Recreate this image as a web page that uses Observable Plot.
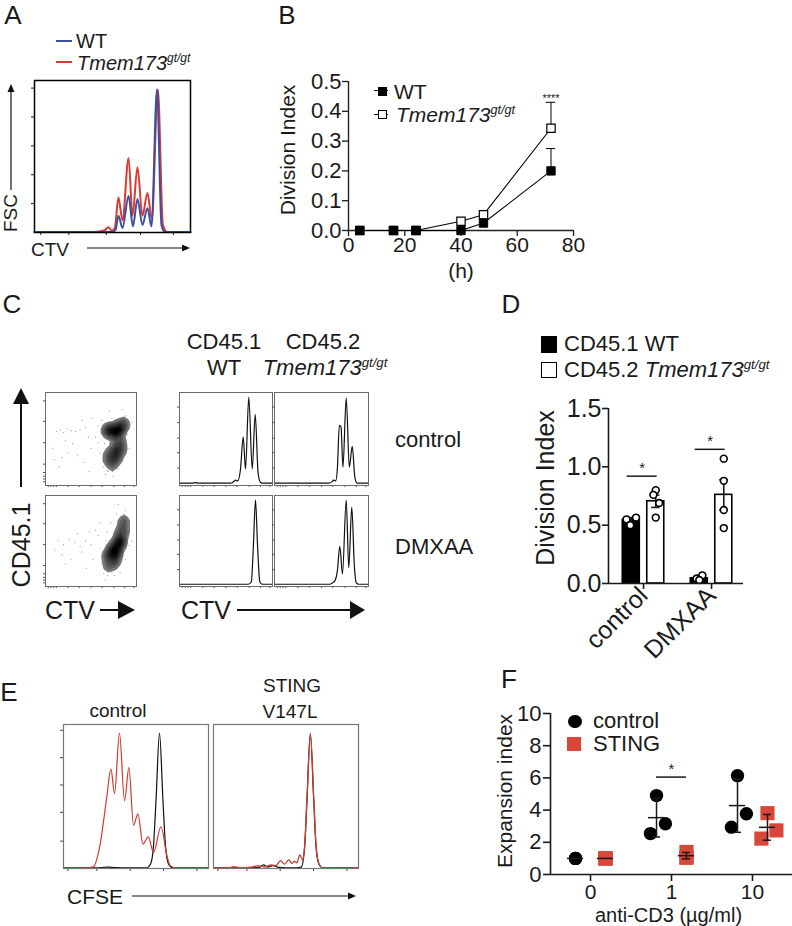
<!DOCTYPE html>
<html>
<head>
<meta charset="utf-8">
<script src="https://cdn.jsdelivr.net/npm/d3@7"></script>
<script src="https://cdn.jsdelivr.net/npm/@observablehq/plot@0.6"></script>
<style>
  html, body { margin: 0; padding: 0; background: #fff; }
  #fig { position: relative; width: 792px; height: 926px; overflow: hidden; background: #fff;
         font-family: "Liberation Sans", Arial, Helvetica, sans-serif; color: #1a1a1a; }
  .t { position: absolute; white-space: nowrap; line-height: 1; }
  .it { font-style: italic; }
  .sup { font-size: 0.6em; position: relative; top: -0.62em; }
  .sw { position: absolute; box-sizing: border-box; }
</style>
</head>
<body>
<div id="fig"></div>
<script>
// ================= DATA =================
// Panel A: CTV histograms (x = % of CTV axis, y = fraction of max count)
const aWT = [[0,0.004],[50,0.004],[52,0.02],[53.8,0.11],[56.4,0.03],[60.3,0.24],[63.1,0.04],[66,0.22],[69.2,0.05],[72.4,0.16],[75,0.04],[78.5,0.94],[81.4,0.05],[83.5,0.004],[100,0.004]];
const aKO = [[0,0.004],[38,0.004],[44.9,0.015],[47.4,0.035],[49.5,0.012],[51.5,0.03],[53.8,0.23],[56.4,0.08],[60.3,0.49],[62.8,0.11],[66,0.43],[69.2,0.11],[72.4,0.26],[75.2,0.09],[79.1,0.94],[82.3,0.05],[85,0.004],[100,0.004]];
const aTickY = [0.19,0.38,0.57,0.76,0.95];
const aTickX = [4,22,46,68,89];

// Panel B: division index over time
const bHours = [4,16,24,40,48,72];
const bWT    = [0,0,0,0,0.025,0.2];
const bKO    = [0,0,0,0.031,0.053,0.343];
const bWTerr = [0,0,0,0,0,0.075];
const bKOerr = [0,0,0,0,0,0.087];
const bSig   = ["","","","","","****"];
const bTickY = [0,0.1,0.2,0.3,0.4,0.5];
const bTickX = [0,20,40,60,80];

// Panel C: flow dot plots (seed clusters: x, y, weight) and sparse events
const cDotCtrlSeeds = [[69,60,3],[70,57,2],[75.5,60,3],[76,57,2],[82.5,62,3],[84,65,2],[80,57,1],[86,69,1],
  [70.5,34,2],[71,27,2],[71.5,20,1],[76.5,38,2.5],[77,31,2],[77,24,1],[82,47,2],[82.5,40,2],[83,33,1],[79,50,1]];
const cDotCtrlSparse = [[12,58],[16,60],[20,57],[24,61],[28,59],[33,58],[38,60],[44,62],[18,30],[10,28],[25,35],[35,32],[42,25],[50,40],
  [55,52],[58,64],[62,70],[60,35],[64,20],[66,12],[88,75],[90,55],[92,40],[86,30],[80,18],[74,10],[58,46],[47,52],[30,45],[22,48],
  [40,70],[52,72],[95,68],[62,58],[65,45],[85,82],[70,80],[8,40],[15,20],[48,15],[64,62],[66,52],[88,50],[87,44],[73,72],[79,70],[68,16],[74,15],
  [66,64],[67,55],[73,65],[79,66],[88,60],[89,66],[68,40],[67,30],[69,15],[74,43],[80,30],[85,40],[86,52],[75,20],[72,48],[64,26]];
const cDotDmxSeeds = [[70,34,2],[70,27,1.5],[69.5,20,1],[72.5,38,1.5],[76,40,2.5],[76.5,33,2],[76,26,1],[80,46,2],[82,53,2.5],
  [82.5,46,2],[84,60,2],[85.5,67,1.5],[86,74,1],[79,38,1],[73,44,1]];
const cDotDmxSparse = [[14,50],[20,46],[26,52],[32,48],[38,44],[44,50],[50,46],[18,35],[28,30],[40,38],[52,30],[58,56],[60,42],[62,25],
  [64,14],[66,8],[72,70],[78,80],[86,78],[90,60],[92,45],[88,30],[82,15],[76,12],[55,62],[48,60],[35,58],[10,40],[22,25],[45,20],
  [68,60],[95,50],[70,45],[60,70],[80,90],[66,50],[88,84],[90,70],[74,18],[64,32],
  [66,22],[67,38],[70,50],[74,55],[78,58],[88,66],[89,56],[87,48],[84,35],[80,28],[73,15],[68,12],[86,80],[78,65],[65,30]];
// Panel C: CTV histograms (x = % of axis, y = fraction of frame height)
const cHistCtrlWT = [[0,0.005],[14,0.005],[17,0.012],[20,0.005],[55,0.005],[58,0.02],[60.2,0.04],[62.5,0.03],[65.5,0.15],[68.5,0.51],[71,0.16],[74.5,0.95],[78.2,0.16],[81.4,0.76],[84.5,0.12],[86.8,0.02],[89,0.005],[100,0.005]];
const cHistCtrlKO = [[0,0.005],[58,0.005],[61,0.02],[63,0.04],[65,0.03],[66.8,0.15],[69,0.64],[70.8,0.62],[72.8,0.18],[76.3,0.94],[79.6,0.18],[82.7,0.41],[85.5,0.07],[88,0.005],[100,0.005]];
const cHistDmxWT  = [[0,0.005],[74,0.005],[77.2,0.03],[79.4,0.42],[81.7,0.95],[84,0.42],[86.4,0.03],[89,0.005],[100,0.005]];
const cHistDmxKO  = [[0,0.005],[59,0.005],[61.5,0.02],[64,0.04],[66.8,0.15],[69.5,0.43],[72.3,0.12],[76.3,0.95],[79,0.19],[82.2,0.87],[85,0.2],[87,0.02],[89.5,0.005],[100,0.005]];
const cTickY = [0.17,0.34,0.5,0.67,0.84];
const cTickX = [3,6,9,12,25,37,50,62,75,87,97];
const cDotTickY = [4,7,10,14,23,46,69,91];
const cDotTickX = [3,6,9,12,25,37,50,62,75,87,97];

// Panel D: division index bars
const dGroups = ["control","DMXAA"];
const dMeanWT = [0.545,0.045];
const dMeanKO = [0.705,0.76];
const dSemWT  = [0.02,0.012];
const dSemKO  = [0.053,0.13];
const dPtsWT  = [[0.55,0.50,0.565],[0.043,0.07,0.03]];
const dPtsKO  = [[0.80,0.76,0.69,0.565],[1.07,0.88,0.63,0.475]];
const dJitWT  = [[-0.07,-0.015,0.07],[-0.04,0.045,0]];
const dJitKO  = [[0,-0.035,0.05,0],[0,0,0,0]];
const dSigY   = [0.92,1.15];
const dTickY  = [0,0.5,1,1.5];

// Panel E: CFSE histograms
const eCtrlRed   = [[0,0.004],[15,0.004],[20.5,0.012],[25.3,0.17],[29.9,0.5],[32.7,0.69],[35.2,0.52],[38.6,0.94],[42.1,0.47],[45.1,0.7],[48.3,0.3],[51.3,0.38],[54.8,0.17],[58.4,0.22],[62.1,0.11],[67.2,0.29],[71.3,0.09],[73.6,0.02],[78,0.004],[100,0.004]];
const eCtrlBlack = [[0,0.004],[22,0.004],[30,0.01],[36,0.006],[45,0.004],[57,0.004],[60,0.03],[62,0.15],[63.8,0.47],[66.2,0.94],[68.6,0.47],[70.4,0.15],[72.5,0.03],[75.5,0.004],[100,0.004]];
const eStingRed  = [[0,0.004],[10,0.004],[14,0.012],[18,0.006],[26,0.01],[31,0.02],[35,0.012],[40,0.025],[43,0.02],[46.2,0.055],[49,0.03],[51.9,0.06],[54,0.035],[55.8,0.05],[57.5,0.04],[59.5,0.095],[61.5,0.06],[62.8,0.15],[64.4,0.47],[66.8,0.94],[69.2,0.47],[70.8,0.15],[72.8,0.03],[75.5,0.004],[100,0.004]];
const eStingBlack= [[0,0.004],[25,0.004],[32,0.01],[34.6,0.026],[37,0.01],[41,0.02],[45,0.008],[55,0.004],[60.5,0.01],[62.8,0.14],[64.4,0.46],[66.8,0.93],[69.2,0.46],[70.8,0.14],[72.8,0.03],[75.5,0.004],[100,0.004]];
const eTickY = [0.19,0.39,0.58,0.77,0.96];
const eTickX = [3,23,46,69,92];

// Panel F: expansion index
const fDoseLabels = ["0","1","10"];
const fCtrl      = [[1,1,1],[4.9,3.15,2.54],[6.14,3.77,2.94]];
const fCtrlJit   = [[0,0,0],[0,0.11,-0.075],[0,0.11,-0.075]];
const fSting     = [[1,1,1],[1.4,1.05,1.05],[3.81,2.74,2.23]];
const fStingJit  = [[0,0,0],[0,0,0],[0,0.11,-0.075]];
const fCtrlMean  = [1,3.53,4.28];
const fCtrlSD    = [0,1.2,1.66];
const fStingMean = [1,1.17,2.93];
const fStingSD   = [0,0.2,0.8];
const fSig       = [{dose:1, y:6.05, label:"*"}];
const fTickY     = [0,2,4,6,8,10];

// ================= STYLE / LAYOUT =================
const FONT = '"Liberation Sans", Arial, Helvetica, sans-serif';
const RED_A = "#dc3b30", BLUE_A = "#3d4fa3", RED_E = "#cf3a2f", RED_F = "#d9473b";
const fig = document.getElementById("fig");
const P = d => d[0], Q = d => d[1];
const blank = () => "";

function plotAt(box, pad, opts) {
  const [x0, x1, y0, y1] = box, [pt, pr, pb, pl] = pad;
  const svg = Plot.plot({
    width: Math.round(x1 - x0 + pl + pr), height: Math.round(y1 - y0 + pt + pb),
    marginTop: pt, marginRight: pr, marginBottom: pb, marginLeft: pl,
    style: {background: "transparent", fontFamily: FONT, overflow: "visible", color: "#1a1a1a"},
    ...opts
  });
  svg.style.position = "absolute";
  svg.style.left = (x0 - pl) + "px";
  svg.style.top = (y0 - pt) + "px";
  fig.appendChild(svg);
  return svg;
}
function txt(html, x, y, size, o = {}) {
  const d = document.createElement("div");
  d.className = "t"; d.innerHTML = html;
  d.style.fontSize = size + "px"; d.style.left = x + "px"; d.style.top = y + "px";
  const ax = o.anchor === "start" ? "0" : o.anchor === "end" ? "-100%" : "-50%";
  d.style.transform = `translate(${ax},-50%)` + (o.rotate ? ` rotate(${o.rotate}deg)` : "");
  if (o.color) d.style.color = o.color;
  fig.appendChild(d);
}
function sw(x, y, w, h, css) {
  const d = document.createElement("div");
  d.className = "sw";
  Object.assign(d.style, {left: x + "px", top: y + "px", width: w + "px", height: h + "px"}, css);
  fig.appendChild(d);
}
const TMEM = '<span class="it">Tmem173<span class="sup">gt/gt</span></span>';
const yTitle = (s, dx, dy, size) => Plot.text([s], {text: d => d, frameAnchor: "left", textAnchor: "middle", lineAnchor: "middle", dx, dy, rotate: -90, fontSize: size});
const xTitle = (s, dx, dy, size) => Plot.text([s], {text: d => d, frameAnchor: "bottom", textAnchor: "middle", lineAnchor: "middle", dx, dy, fontSize: size});

// ---------- Panel A ----------
plotAt([34, 190, 80, 232], [5, 5, 10, 10], {
  x: {domain: [0, 100]}, y: {domain: [0, 1]},
  marks: [
    Plot.line(aKO, {x: P, y: Q, curve: "monotone-x", stroke: RED_A, strokeWidth: 2}),
    Plot.line(aWT, {x: P, y: Q, curve: "monotone-x", stroke: BLUE_A, strokeWidth: 2}),
    Plot.axisY({ticks: aTickY, tickSize: 3, tickFormat: blank, label: null}),
    Plot.axisX({ticks: aTickX, tickSize: 3, tickFormat: blank, label: null}),
    Plot.frame({stroke: "#000", strokeWidth: 1.5})
  ]
});

// ---------- Panel B ----------
const bRows = [];
bHours.forEach((h, i) => {
  bRows.push({s: "KO", h, v: bKO[i], err: bKOerr[i], sig: bSig[i]});
  bRows.push({s: "WT", h, v: bWT[i], err: bWTerr[i], sig: ""});
});
const bErr = bRows.filter(d => d.err > 0);
plotAt([348, 573, 81, 230], [30, 20, 50, 80], {
  x: {domain: [0, 80]}, y: {domain: [0, 0.5]},
  marks: [
    Plot.ruleX([0], {stroke: "#222", strokeWidth: 1.4}),
    Plot.ruleY([0], {stroke: "#222", strokeWidth: 1.4}),
    Plot.axisY({ticks: bTickY, tickFormat: d3.format(".1f"), tickSize: 6, tickPadding: 1, fontSize: 22, strokeWidth: 1.3, label: null}),
    Plot.axisX({ticks: bTickX, tickSize: 6, tickPadding: 1, fontSize: 21, strokeWidth: 1.3, label: null}),
    Plot.ruleX(bErr, {x: "h", y1: "v", y2: d => d.v + d.err, strokeWidth: 1.1}),
    Plot.ruleY(bErr, {y: d => d.v + d.err, x1: d => d.h - 1.7, x2: d => d.h + 1.7, strokeWidth: 1.1}),
    Plot.line(bRows, {x: "h", y: "v", z: "s", stroke: "#000", strokeWidth: 1.1}),
    Plot.dot(bRows.filter(d => d.s === "KO"), {x: "h", y: "v", symbol: "square", r: 4.7, fill: "#fff", stroke: "#000", strokeWidth: 1.2}),
    Plot.dot(bRows.filter(d => d.s === "WT"), {x: "h", y: "v", symbol: "square", r: 4.7, fill: "#000", stroke: "#000", strokeWidth: 1}),
    Plot.text(bErr.filter(d => d.sig), {x: "h", y: d => d.v + d.err, text: "sig", dy: -4, fontSize: 11}),
    yTitle("Division Index", -60, -6, 21),
    xTitle("(h)", 0, 41, 21)
  ]
});

// ---------- Panel C ----------
const cDotBoxes = [[45, 136, 392, 485], [45, 136, 495, 586]];
[[cDotCtrlSeeds, cDotCtrlSparse], [cDotDmxSeeds, cDotDmxSparse]].forEach(([seeds, sparse], i) => {
  plotAt(cDotBoxes[i], [2, 2, 4, 4], {
    x: {domain: [0, 100]}, y: {domain: [0, 100]},
    color: {type: "sqrt", range: ["#b4b4b4", "#000000"]},
    marks: [
      Plot.dot(sparse, {x: P, y: Q, r: 0.55, fill: "#8a8a8a"}),
      Plot.density(seeds, {x: P, y: Q, weight: d => d[2], bandwidth: 1.5, thresholds: 10, fill: "density", stroke: "none"}),
      Plot.axisY({ticks: cDotTickY, tickSize: 2, tickFormat: blank, stroke: "#555", label: null}),
      Plot.axisX({ticks: cDotTickX, tickSize: 2, tickFormat: blank, stroke: "#555", label: null}),
      Plot.frame({stroke: "#6b6b6b", strokeWidth: 1})
    ]
  });
});
const cHists = [cHistCtrlWT, cHistCtrlKO, cHistDmxWT, cHistDmxKO];
const cHistBoxes = [[179, 272, 392, 485], [274, 368, 392, 485], [179, 272, 495, 586], [274, 368, 495, 586]];
cHists.forEach((h, i) => {
  plotAt(cHistBoxes[i], [2, 2, 4, 4], {
    x: {domain: [0, 100]}, y: {domain: [-0.02, 1]},
    marks: [
      Plot.line(h, {x: P, y: Q, curve: "monotone-x", stroke: "#111", strokeWidth: 1.2}),
      Plot.axisY({ticks: cTickY, tickSize: 2, tickFormat: blank, stroke: "#555", label: null}),
      Plot.axisX({ticks: cTickX, tickSize: 2, tickFormat: blank, stroke: "#555", label: null}),
      Plot.frame({stroke: "#6b6b6b", strokeWidth: 1})
    ]
  });
});

// ---------- Panel D ----------
const dX = [-0.515, 1.47];
const dOff = {WT: -0.18, KO: 0.18}, dHalf = 0.125;
const dBars = [], dPts = [];
dGroups.forEach((g, i) => {
  dBars.push({g: i, geno: "WT", mean: dMeanWT[i], sem: dSemWT[i]});
  dBars.push({g: i, geno: "KO", mean: dMeanKO[i], sem: dSemKO[i]});
  dPtsWT[i].forEach((v, j) => dPts.push({g: i, geno: "WT", v, jit: dJitWT[i][j]}));
  dPtsKO[i].forEach((v, j) => dPts.push({g: i, geno: "KO", v, jit: dJitKO[i][j]}));
});
const dPos = d => d.g + dOff[d.geno];
const dSig = dSigY.map((y, g) => ({g, y, label: "*"}));
plotAt([608, 743, 408, 583], [10, 10, 90, 100], {
  x: {domain: dX}, y: {domain: [0, 1.5]},
  marks: [
    Plot.rectY(dBars.filter(d => d.geno === "WT"), {x1: d => dPos(d) - dHalf, x2: d => dPos(d) + dHalf, y: "mean", fill: "#000", stroke: "#000", strokeWidth: 1.6}),
    Plot.rectY(dBars.filter(d => d.geno === "KO"), {x1: d => dPos(d) - dHalf, x2: d => dPos(d) + dHalf, y: "mean", fill: "#fff", stroke: "#000", strokeWidth: 1.6}),
    Plot.ruleX(dBars, {x: dPos, y1: d => d.mean - d.sem, y2: d => d.mean + d.sem, strokeWidth: 1.6}),
    Plot.ruleY(dBars, {y: d => d.mean + d.sem, x1: d => dPos(d) - 0.06, x2: d => dPos(d) + 0.06, strokeWidth: 1.6}),
    Plot.ruleY(dBars, {y: d => d.mean - d.sem, x1: d => dPos(d) - 0.06, x2: d => dPos(d) + 0.06, strokeWidth: 1.6}),
    Plot.dot(dPts, {x: d => dPos(d) + d.jit, y: "v", r: 3.4, fill: "#fff", stroke: "#000", strokeWidth: 1.6}),
    Plot.ruleY(dSig, {y: "y", x1: d => d.g - 0.24, x2: d => d.g + 0.2, strokeWidth: 1.5}),
    Plot.text(dSig, {x: d => d.g - 0.02, y: "y", text: "label", dy: -8, fontSize: 15}),
    Plot.ruleX([dX[0]], {strokeWidth: 1.6}),
    Plot.ruleY([0], {strokeWidth: 1.6}),
    Plot.axisY({ticks: dTickY, tickFormat: d3.format(".1f"), tickSize: 6, tickPadding: 1, fontSize: 25, strokeWidth: 1.6, label: null}),
    Plot.axisX({ticks: [0, 1], tickFormat: i => dGroups[i], tickSize: 6, tickPadding: 2, tickRotate: -45, fontSize: 25, strokeWidth: 1.6, label: null}),
    yTitle("Division Index", -63, -8, 25)
  ]
});

// ---------- Panel E ----------
plotAt([63, 208, 724, 868], [2, 2, 6, 6], {
  x: {domain: [0, 100]}, y: {domain: [0, 1]},
  marks: [
    Plot.line(eCtrlBlack, {x: P, y: Q, curve: "monotone-x", stroke: "#111", strokeWidth: 1.2}),
    Plot.line(eCtrlRed, {x: P, y: Q, curve: "monotone-x", stroke: RED_E, strokeWidth: 1.2}),
    Plot.axisY({ticks: eTickY, tickSize: 3, tickFormat: blank, stroke: "#444", label: null}),
    Plot.axisX({ticks: eTickX, tickSize: 3, tickFormat: blank, stroke: "#444", label: null}),
    Plot.frame({stroke: "#777", strokeWidth: 1.2})
  ]
});
plotAt([213, 358, 724, 868], [2, 2, 6, 2], {
  x: {domain: [0, 100]}, y: {domain: [0, 1], axis: null},
  marks: [
    Plot.line(eStingBlack, {x: P, y: Q, curve: "monotone-x", stroke: "#111", strokeWidth: 1.2}),
    Plot.line(eStingRed, {x: P, y: Q, curve: "monotone-x", stroke: RED_E, strokeWidth: 1.3}),
    Plot.axisX({ticks: eTickX, tickSize: 3, tickFormat: blank, stroke: "#444", label: null}),
    Plot.frame({stroke: "#777", strokeWidth: 1.2})
  ]
});

// ---------- Panel F ----------
const fX = [-0.494, 2.494], fOff = 0.185;
const fPts = [], fStats = [];
fCtrl.forEach((arr, i) => arr.forEach((v, j) => fPts.push({grp: "control", dose: i, v, jit: fCtrlJit[i][j]})));
fSting.forEach((arr, i) => arr.forEach((v, j) => fPts.push({grp: "STING", dose: i, v, jit: fStingJit[i][j]})));
fCtrlMean.forEach((m, i) => fStats.push({grp: "control", dose: i, mean: m, sd: fCtrlSD[i]}));
fStingMean.forEach((m, i) => fStats.push({grp: "STING", dose: i, mean: m, sd: fStingSD[i]}));
const fPos = d => d.dose + (d.grp === "control" ? -fOff : fOff) + (d.jit || 0);
const fSD = fStats.filter(d => d.sd > 0);
plotAt([550, 792, 713, 874], [30, 0, 55, 90], {
  x: {domain: fX}, y: {domain: [0, 10]},
  marks: [
    Plot.ruleX([fX[0]], {strokeWidth: 1.6}),
    Plot.ruleY([0], {strokeWidth: 1.6}),
    Plot.axisY({ticks: fTickY, tickSize: 7, tickPadding: 2, fontSize: 22, strokeWidth: 1.6, label: null}),
    Plot.axisX({ticks: [0, 1, 2], tickFormat: i => fDoseLabels[i], tickSize: 7, tickPadding: 3, fontSize: 21, strokeWidth: 1.6, label: null}),
    Plot.dot(fPts.filter(d => d.grp === "control"), {x: fPos, y: "v", r: 6.7, fill: "#000"}),
    Plot.dot(fPts.filter(d => d.grp === "STING"), {x: fPos, y: "v", r: 8, symbol: "square", fill: RED_F}),
    Plot.ruleY(fStats, {y: "mean", x1: d => fPos(d) - 0.1, x2: d => fPos(d) + 0.1, strokeWidth: 1.5}),
    Plot.ruleX(fSD, {x: fPos, y1: d => d.mean - d.sd, y2: d => d.mean + d.sd, strokeWidth: 1.5}),
    Plot.ruleY(fSD, {y: d => d.mean - d.sd, x1: d => fPos(d) - 0.05, x2: d => fPos(d) + 0.05, strokeWidth: 1.5}),
    Plot.ruleY(fSD, {y: d => d.mean + d.sd, x1: d => fPos(d) - 0.05, x2: d => fPos(d) + 0.05, strokeWidth: 1.5}),
    Plot.ruleY(fSig, {y: "y", x1: d => d.dose - fOff, x2: d => d.dose + fOff, strokeWidth: 1.5}),
    Plot.text(fSig, {x: "dose", y: "y", text: "label", dy: -8, fontSize: 15}),
    yTitle("Expansion index", -45, -3, 21),
    xTitle("anti-CD3 (µg/ml)", -3, 41, 20)
  ]
});

// ================= TEXT, LEGENDS, ARROWS =================
// panel letters
txt("A", 13, 15, 26); txt("B", 287, 15, 26); txt("C", 12, 304, 26);
txt("D", 511, 304, 26); txt("E", 9, 692, 26); txt("F", 509, 679, 26);

// A legend and axes labels
sw(56, 40, 16, 2, {background: BLUE_A});
txt("WT", 76, 41, 20, {anchor: "start"});
sw(56, 61, 16, 2, {background: RED_A});
txt(TMEM, 77, 62.5, 20, {anchor: "start"});
txt("FSC", 10, 213, 19, {rotate: -90});
txt("CTV", 50, 249, 19);

// B legend
sw(374, 90, 14, 1.3, {background: "#000"});
sw(377.5, 86.5, 9, 9, {background: "#000"});
txt("WT", 394, 91, 21, {anchor: "start"});
sw(374, 113.5, 14, 1.3, {background: "#000"});
sw(377.5, 109.5, 9, 9, {background: "#fff", border: "1.2px solid #000"});
txt(TMEM, 396, 114, 21, {anchor: "start"});

// C labels
txt("CD45.1", 224, 342, 22); txt("WT", 224, 368, 22);
txt("CD45.2", 323, 342, 22); txt(TMEM, 325, 368, 22);
txt("control", 395, 440, 22, {anchor: "start"});
txt("DMXAA", 395, 547, 22, {anchor: "start"});
txt("CD45.1", 21, 545, 25, {rotate: -90});
txt("CTV", 70, 610, 25); txt("CTV", 206, 610, 25);

// D legend
sw(541, 336, 16, 17, {background: "#000"});
txt("CD45.1 WT", 564, 344, 22, {anchor: "start"});
sw(541, 362, 16, 16, {background: "#fff", border: "1.5px solid #000"});
txt("CD45.2 " + TMEM, 564, 370, 22, {anchor: "start"});

// E labels
txt("control", 118, 710, 19); txt("STING", 292, 685, 19); txt("V147L", 290, 711, 19);
txt("CFSE", 95, 896, 21);

// F legend
sw(568.3, 715, 13.4, 13.4, {background: "#000", borderRadius: "50%"});
txt("control", 593, 721, 22, {anchor: "start"});
sw(567, 737, 14, 14, {background: RED_F});
txt("STING", 593, 744, 22, {anchor: "start"});

// arrows (decorations)
const NS = "http://www.w3.org/2000/svg";
const ov = document.createElementNS(NS, "svg");
ov.setAttribute("width", 792); ov.setAttribute("height", 926);
Object.assign(ov.style, {position: "absolute", left: "0", top: "0", pointerEvents: "none"});
fig.appendChild(ov);
function arrow(x1, y1, x2, y2, hl, hw, lw) {
  const dx = x2 - x1, dy = y2 - y1, L = Math.hypot(dx, dy), ux = dx / L, uy = dy / L;
  const bx = x2 - ux * hl, by = y2 - uy * hl;
  const ln = document.createElementNS(NS, "line");
  ln.setAttribute("x1", x1); ln.setAttribute("y1", y1); ln.setAttribute("x2", bx + ux); ln.setAttribute("y2", by + uy);
  ln.setAttribute("stroke", "#111"); ln.setAttribute("stroke-width", lw);
  ov.appendChild(ln);
  const pg = document.createElementNS(NS, "polygon");
  pg.setAttribute("points", `${x2},${y2} ${bx - uy * hw},${by + ux * hw} ${bx + uy * hw},${by - ux * hw}`);
  pg.setAttribute("fill", "#111");
  ov.appendChild(pg);
}
arrow(11, 190, 11, 84, 8, 3.5, 1.2);
arrow(87, 248, 190, 248, 8, 3.5, 1.2);
arrow(21, 487, 21, 388, 16, 8, 2);
arrow(100, 610, 135, 610, 17, 9, 2);
arrow(237, 610, 365, 610, 15, 9, 2);
arrow(132, 896, 356, 896, 8, 3.5, 1.2);
</script>
</body>
</html>
